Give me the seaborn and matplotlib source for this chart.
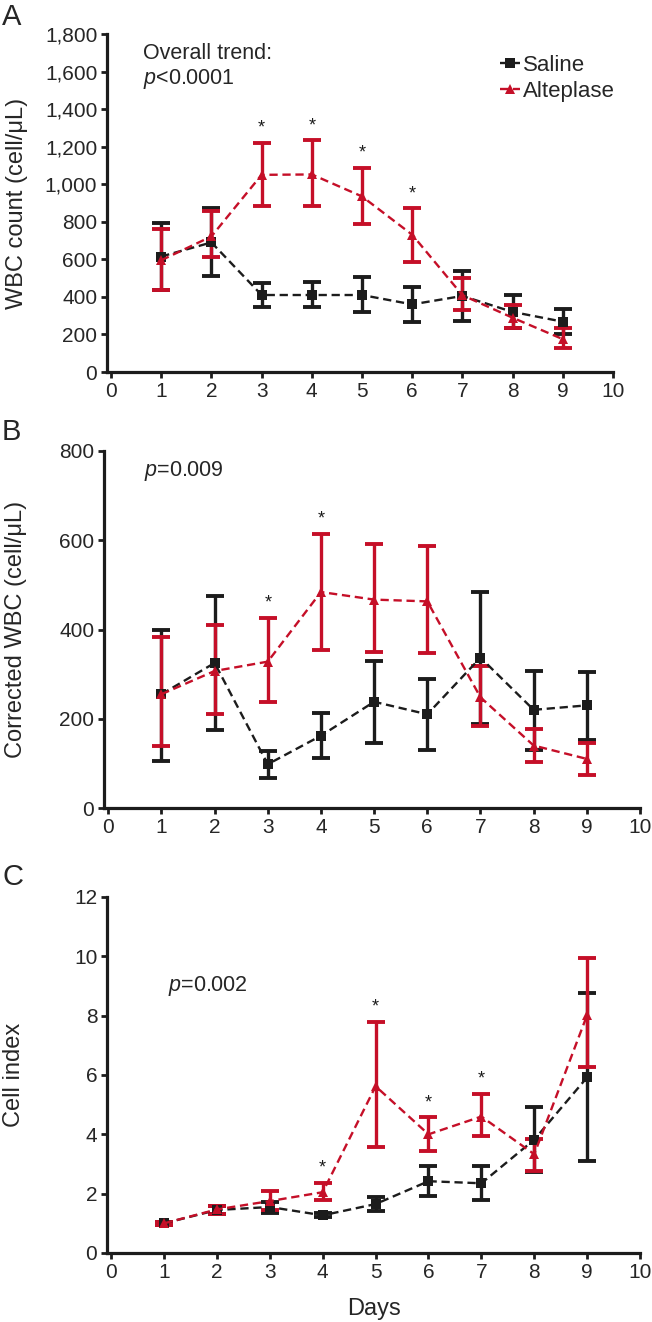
import numpy as np
import pandas as pd
import seaborn as sns
import matplotlib.pyplot as plt
from matplotlib.ticker import FuncFormatter

# ---- data ----
days = [1, 2, 3, 4, 5, 6, 7, 8, 9]

# panel A: WBC count
wbc_saline = [615, 690, 410, 410, 410, 360, 405, 320, 268]
wbc_saline_lo = [435, 510, 345, 348, 317, 268, 274, 235, 204]
wbc_saline_hi = [796, 874, 474, 478, 506, 452, 540, 410, 333]
wbc_alte = [595, 722, 1050, 1052, 935, 731, 409, 289, 175]
wbc_alte_lo = [435, 614, 885, 883, 788, 586, 331, 232, 129]
wbc_alte_hi = [759, 860, 1221, 1235, 1089, 872, 501, 358, 232]
wbc_stars = [3, 4, 5, 6]

# panel B: corrected WBC
cwbc_saline = [255, 325, 98, 162, 238, 210, 337, 220, 230]
cwbc_saline_lo = [105, 175, 67, 112, 145, 130, 188, 130, 153]
cwbc_saline_hi = [400, 474, 128, 212, 330, 288, 484, 307, 304]
cwbc_alte = [255, 307, 328, 484, 467, 463, 248, 140, 110]
cwbc_alte_lo = [140, 210, 237, 354, 350, 347, 183, 102, 74]
cwbc_alte_hi = [384, 410, 426, 615, 591, 587, 318, 178, 145]
cwbc_stars = [3, 4]

# panel C: cell index
ci_saline = [1.0, 1.45, 1.55, 1.27, 1.65, 2.42, 2.35, 3.82, 5.92]
ci_saline_lo = [0.95, 1.32, 1.36, 1.20, 1.42, 1.93, 1.78, 2.72, 3.09]
ci_saline_hi = [1.05, 1.58, 1.72, 1.35, 1.90, 2.92, 2.92, 4.92, 8.75]
ci_alte = [1.0, 1.47, 1.75, 2.05, 5.62, 4.0, 4.6, 3.33, 8.02]
ci_alte_lo = [0.95, 1.32, 1.46, 1.78, 3.58, 3.44, 3.93, 2.78, 6.26]
ci_alte_hi = [1.05, 1.60, 2.08, 2.37, 7.79, 4.58, 5.37, 3.84, 9.95]
ci_stars = [4, 5, 6, 7]

groups = ["Saline", "Alteplase"]
RED = "#c50f28"
BLACK = "#1c1c1c"
palette = {"Saline": BLACK, "Alteplase": RED}

sns.set_style("ticks")
plt.rcParams["font.family"] = ["Liberation Sans", "DejaVu Sans"]
plt.rcParams["mathtext.fontset"] = "custom"
plt.rcParams["mathtext.rm"] = "Liberation Sans"
plt.rcParams["mathtext.it"] = "Liberation Sans:italic"

fig = plt.figure(figsize=(6.52, 13.22), dpi=100)
W, H = 652, 1322


def px_axes(left, right, top, bottom):
    return fig.add_axes([left / W, 1 - bottom / H, (right - left) / W, (bottom - top) / H])


def panel(ax, sal, sal_lo, sal_hi, alt, alt_lo, alt_hi, stars, legend=False):
    df = pd.DataFrame({
        "day": days * 2,
        "value": sal + alt,
        "group": ["Saline"] * len(days) + ["Alteplase"] * len(days),
    })
    for g, m, lo, hi in [("Saline", sal, sal_lo, sal_hi), ("Alteplase", alt, alt_lo, alt_hi)]:
        m = np.array(m)
        ax.errorbar(days, m, yerr=[m - np.array(lo), np.array(hi) - m], fmt="none",
                    ecolor=palette[g], elinewidth=2.4, capsize=6.8, capthick=2.8, zorder=2)
    sns.lineplot(data=df, x="day", y="value", hue="group", style="group",
                 hue_order=groups, style_order=groups, palette=palette,
                 markers={"Saline": "s", "Alteplase": "^"},
                 dashes={"Saline": (3.5, 2), "Alteplase": (3.5, 2)},
                 markersize=7.5, markeredgewidth=0, linewidth=1.7,
                 errorbar=None, legend=legend, ax=ax, zorder=3)
    for d in stars:
        ax.annotate("*", (d, alt_hi[days.index(d)]), xytext=(0, 10.5), textcoords="offset points",
                    ha="center", va="center", fontsize=13, color=BLACK)
    ax.set_xlim(-0.08, 10)
    ax.set_xticks(range(0, 11))
    ax.set_xlabel("")
    sns.despine(ax=ax)
    for s in ["left", "bottom"]:
        ax.spines[s].set_linewidth(2.3)
        ax.spines[s].set_color(BLACK)
    ax.tick_params(axis="both", labelsize=15, width=2, length=4, color=BLACK, pad=3)


def ylabel_at(ax, text, x_px):
    ax.set_ylabel(text, fontsize=17)
    left = ax.get_position().x0 * W
    width = ax.get_position().width * W
    ax.yaxis.set_label_coords((x_px - left) / width, 0.5)


# Panel A
axA = px_axes(107, 613, 34, 372)
panel(axA, wbc_saline, wbc_saline_lo, wbc_saline_hi, wbc_alte, wbc_alte_lo, wbc_alte_hi,
      wbc_stars, legend=True)
axA.set_ylim(0, 1800)
axA.set_yticks(range(0, 1801, 200))
axA.yaxis.set_major_formatter(FuncFormatter(lambda v, p: f"{int(v):,}"))
ylabel_at(axA, "WBC count (cell/μL)", 28)
axA.text(0.072, 0.973, "Overall trend:\n$\\it{p}$<0.0001", transform=axA.transAxes,
         fontsize=15.5, va="top", ha="left", linespacing=1.15)
sns.move_legend(axA, "upper left", bbox_to_anchor=(0.76, 0.965), frameon=False, title=None,
                fontsize=16, handlelength=0.9, handletextpad=0.1, labelspacing=0.25,
                borderaxespad=0)

# Panel B
axB = px_axes(104, 640, 451, 808)
panel(axB, cwbc_saline, cwbc_saline_lo, cwbc_saline_hi, cwbc_alte, cwbc_alte_lo, cwbc_alte_hi,
      cwbc_stars)
axB.set_ylim(0, 800)
axB.set_yticks(range(0, 801, 200))
ylabel_at(axB, "Corrected WBC (cell/μL)", 27)
axB.text(0.075, 0.945, "$\\it{p}$=0.009", transform=axB.transAxes, fontsize=15.5,
         va="center", ha="left")

# Panel C
axC = px_axes(107, 640, 897, 1253)
panel(axC, ci_saline, ci_saline_lo, ci_saline_hi, ci_alte, ci_alte_lo, ci_alte_hi, ci_stars)
axC.set_ylim(0, 12)
axC.set_yticks(range(0, 13, 2))
ylabel_at(axC, "Cell index", 25)
axC.set_xlabel("Days", fontsize=17, labelpad=12)
axC.text(0.115, 0.75, "$\\it{p}$=0.002", transform=axC.transAxes, fontsize=15.5,
         va="center", ha="left")

# panel letters
for lbl, y in [("A", 17), ("B", 432), ("C", 877)]:
    fig.text(2 / W, 1 - y / H, lbl, fontsize=21, va="center", ha="left")

fig.savefig("out.png", dpi=100)
